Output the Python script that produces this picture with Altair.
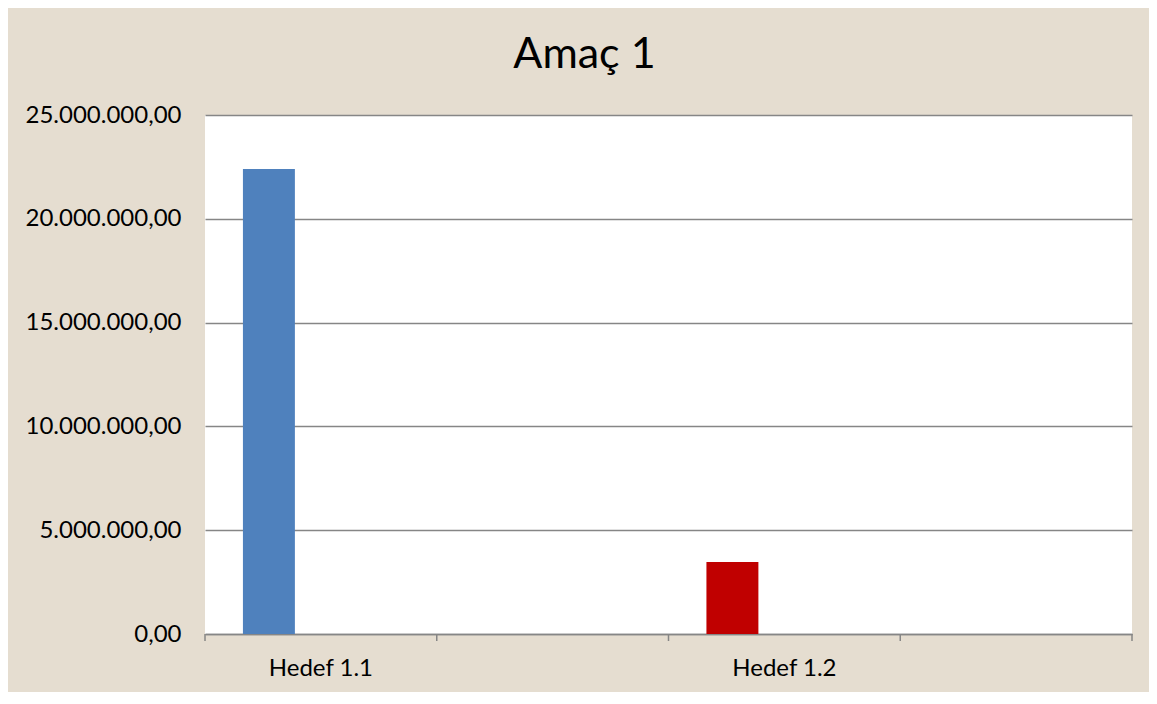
import altair as alt
import pandas as pd

# ---- data ----
categories = ["Hedef 1.1", " ", "Hedef 1.2", "  "]
series = ["Seri 1", "Seri 2", "Seri 3"]
bar_categories = ["Hedef 1.1", "Hedef 1.2"]
bar_series = ["Seri 1", "Seri 1"]
bar_values = [22400000, 3470000]
bar_colors = ["#4F81BD", "#C00000"]
y_ticks = [0, 5000000, 10000000, 15000000, 20000000, 25000000]
title_text = "Amaç 1"

bars_df = pd.DataFrame({
    "kategori": bar_categories,
    "seri": bar_series,
    "deger": bar_values,
    "renk": bar_colors,
})
tick_df = pd.DataFrame({"kategori": categories})

FONT = "Lato"
W, H = 927, 519

x_scale = alt.Scale(domain=categories, paddingInner=0, paddingOuter=0)
y_scale = alt.Scale(domain=[0, 25000000], nice=False)

fmt = ("replace(replace(replace(format(datum.value, ',.2f'), regexp(',', 'g'), '#'), "
       "'.', ','), regexp('#', 'g'), '.')")

x_axis = alt.Axis(title=None, labelAngle=0, ticks=False, domain=True,
                  domainColor="#868686", domainWidth=1.5,
                  labelFont=FONT, labelFontSize=24, labelColor="#000000",
                  labelPadding=22, grid=False)

bars = alt.Chart(bars_df).mark_bar().encode(
    x=alt.X("kategori:N", scale=x_scale, sort=categories, axis=x_axis),
    xOffset=alt.XOffset("seri:N", scale=alt.Scale(domain=series, paddingInner=0,
                                                  paddingOuter=0.73)),
    y=alt.Y("deger:Q", scale=y_scale,
            axis=alt.Axis(title=None, values=y_ticks, labelExpr=fmt, ticks=False,
                          domain=False, grid=True, gridColor="#868686", gridWidth=1.5,
                          labelFont=FONT, labelFontSize=24, labelColor="#000000",
                          labelPadding=24)),
    color=alt.Color("renk:N", scale=None, legend=None),
)

# category boundary tick marks below the axis (Excel style)
ticks_start = alt.Chart(tick_df).mark_rule(color="#868686", strokeWidth=1.5).encode(
    x=alt.X("kategori:N", scale=x_scale, sort=categories, bandPosition=0, axis=x_axis),
    y=alt.value(H),
    y2=alt.value(H + 7),
)
ticks_end = alt.Chart(tick_df.tail(1)).mark_rule(color="#868686", strokeWidth=1.5).encode(
    x=alt.X("kategori:N", scale=x_scale, sort=categories, bandPosition=1, axis=x_axis),
    y=alt.value(H),
    y2=alt.value(H + 7),
)

chart = alt.layer(bars, ticks_start, ticks_end).properties(
    width=W,
    height=H,
    title=alt.TitleParams(title_text, font=FONT, fontSize=43, fontWeight="normal",
                          color="#000000", anchor="middle", frame="group",
                          dx=-84, dy=28, offset=20, baseline="alphabetic"),
    autosize=alt.AutoSizeParams(type="none"),
    padding={"left": 197, "top": 107, "right": 17, "bottom": 58},
    background="#E5DDD0",
).configure_view(
    fill="#FFFFFF", stroke=None,
)

chart.save("out.html", embed_options={"renderer": "svg", "actions": False})
